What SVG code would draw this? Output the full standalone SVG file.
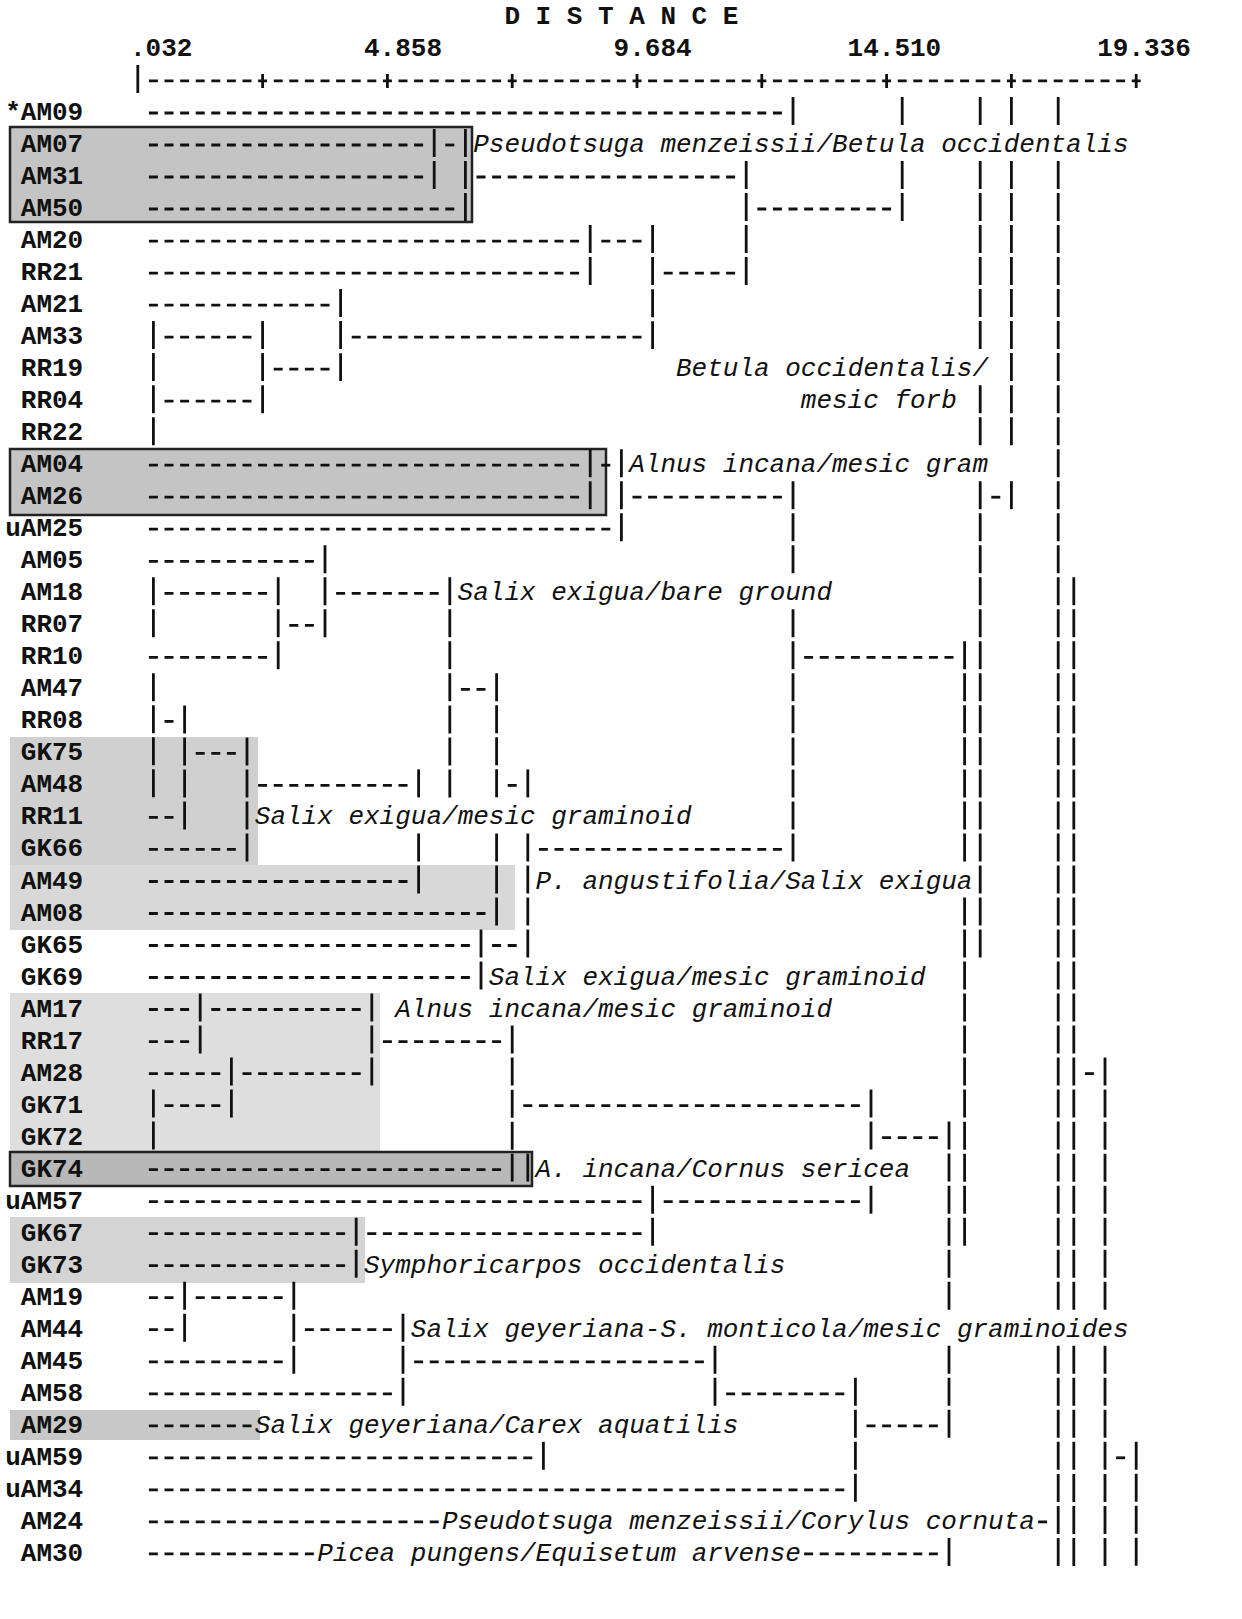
<svg xmlns="http://www.w3.org/2000/svg" width="1242" height="1619" viewBox="0 0 1242 1619">
<style>
.lbl{font-family:"Liberation Mono","Courier New",monospace;font-size:26px;font-weight:bold;fill:#111}
.cl{font-family:"Liberation Mono","Courier New",monospace;font-size:26px;font-style:italic;fill:#111}
.h{stroke:#111;stroke-width:2.8;stroke-dasharray:9 6.6;fill:none}
.v{stroke:#111;stroke-width:2.8;stroke-dasharray:28 4.02;fill:none}
.t{stroke:#111;stroke-width:2.8}
.hb{stroke:#222;stroke-width:2.5}
</style>
<rect x="0" y="0" width="1242" height="1619" fill="#fff"/>
<g id="highlights">
<rect class="hb" x="10" y="127" width="462" height="95" fill="#c4c4c4"/>
<rect class="hb" x="10" y="449" width="596" height="66" fill="#c4c4c4"/>
<rect x="10" y="737" width="248" height="128" fill="#d0d0d0"/>
<rect x="10" y="865" width="505" height="65" fill="#d8d8d8"/>
<rect x="10" y="993" width="370" height="160" fill="#dedede"/>
<rect class="hb" x="10" y="1152" width="522" height="34" fill="#b8b8b8"/>
<rect x="10" y="1217" width="355" height="66" fill="#d4d4d4"/>
<rect x="10" y="1410" width="250" height="30" fill="#c8c8c8"/>
</g>
<g id="axis">
<text class="lbl" x="504.4" y="23.9" xml:space="preserve">D I S T A N C E</text>
<text class="lbl" x="130" y="55.9">.032</text>
<text class="lbl" x="364" y="55.9">4.858</text>
<text class="lbl" x="613.6" y="55.9">9.684</text>
<text class="lbl" x="847.6" y="55.9">14.510</text>
<text class="lbl" x="1097.2" y="55.9">19.336</text>
<line class="t" x1="137.8" y1="65" x2="137.8" y2="93"/>
<line class="h" x1="148.9" y1="80.9" x2="1140.7" y2="80.9"/>
<path class="t" d="M262.6 74v14M387.4 74v14M512.2 74v14M637 74v14M761.8 74v14M886.6 74v14M1011.4 74v14M1136.2 74v14"/>
</g>
<g id="connectors">
<line class="h" x1="148.9" y1="113" x2="781.9" y2="113"/>
<line class="h" x1="148.9" y1="145" x2="423.1" y2="145"/>
<line class="h" x1="445.3" y1="145" x2="454.3" y2="145"/>
<line class="h" x1="148.9" y1="177" x2="423.1" y2="177"/>
<line class="h" x1="476.5" y1="177" x2="735.1" y2="177"/>
<line class="h" x1="148.9" y1="209" x2="454.3" y2="209"/>
<line class="h" x1="757.3" y1="209" x2="891.1" y2="209"/>
<line class="h" x1="148.9" y1="241.1" x2="579.1" y2="241.1"/>
<line class="h" x1="601.3" y1="241.1" x2="641.5" y2="241.1"/>
<line class="h" x1="148.9" y1="273.1" x2="579.1" y2="273.1"/>
<line class="h" x1="663.7" y1="273.1" x2="735.1" y2="273.1"/>
<line class="h" x1="148.9" y1="305.1" x2="329.5" y2="305.1"/>
<line class="h" x1="164.5" y1="337.1" x2="251.5" y2="337.1"/>
<line class="h" x1="351.7" y1="337.1" x2="641.5" y2="337.1"/>
<line class="h" x1="273.7" y1="369.1" x2="329.5" y2="369.1"/>
<line class="h" x1="164.5" y1="401.2" x2="251.5" y2="401.2"/>
<line class="h" x1="148.9" y1="465.2" x2="579.1" y2="465.2"/>
<line class="h" x1="601.3" y1="465.2" x2="610.3" y2="465.2"/>
<line class="h" x1="148.9" y1="497.2" x2="579.1" y2="497.2"/>
<line class="h" x1="632.5" y1="497.2" x2="781.9" y2="497.2"/>
<line class="h" x1="991.3" y1="497.2" x2="1000.3" y2="497.2"/>
<line class="h" x1="148.9" y1="529.2" x2="610.3" y2="529.2"/>
<line class="h" x1="148.9" y1="561.3" x2="313.9" y2="561.3"/>
<line class="h" x1="164.5" y1="593.3" x2="267.1" y2="593.3"/>
<line class="h" x1="336.1" y1="593.3" x2="438.7" y2="593.3"/>
<line class="h" x1="289.3" y1="625.3" x2="313.9" y2="625.3"/>
<line class="h" x1="148.9" y1="657.3" x2="267.1" y2="657.3"/>
<line class="h" x1="804.1" y1="657.3" x2="953.5" y2="657.3"/>
<line class="h" x1="460.9" y1="689.3" x2="485.5" y2="689.3"/>
<line class="h" x1="164.5" y1="721.4" x2="173.5" y2="721.4"/>
<line class="h" x1="195.7" y1="753.4" x2="235.9" y2="753.4"/>
<line class="h" x1="258.1" y1="785.4" x2="407.5" y2="785.4"/>
<line class="h" x1="507.7" y1="785.4" x2="516.7" y2="785.4"/>
<line class="h" x1="148.9" y1="817.4" x2="173.5" y2="817.4"/>
<line class="h" x1="148.9" y1="849.4" x2="235.9" y2="849.4"/>
<line class="h" x1="538.9" y1="849.4" x2="781.9" y2="849.4"/>
<line class="h" x1="148.9" y1="881.5" x2="407.5" y2="881.5"/>
<line class="h" x1="148.9" y1="913.5" x2="485.5" y2="913.5"/>
<line class="h" x1="148.9" y1="945.5" x2="469.9" y2="945.5"/>
<line class="h" x1="492.1" y1="945.5" x2="516.7" y2="945.5"/>
<line class="h" x1="148.9" y1="977.5" x2="469.9" y2="977.5"/>
<line class="h" x1="148.9" y1="1009.5" x2="189.1" y2="1009.5"/>
<line class="h" x1="211.3" y1="1009.5" x2="360.7" y2="1009.5"/>
<line class="h" x1="148.9" y1="1041.6" x2="189.1" y2="1041.6"/>
<line class="h" x1="382.9" y1="1041.6" x2="501.1" y2="1041.6"/>
<line class="h" x1="148.9" y1="1073.6" x2="220.3" y2="1073.6"/>
<line class="h" x1="242.5" y1="1073.6" x2="360.7" y2="1073.6"/>
<line class="h" x1="1084.9" y1="1073.6" x2="1093.9" y2="1073.6"/>
<line class="h" x1="164.5" y1="1105.6" x2="220.3" y2="1105.6"/>
<line class="h" x1="523.3" y1="1105.6" x2="859.9" y2="1105.6"/>
<line class="h" x1="882.1" y1="1137.6" x2="937.9" y2="1137.6"/>
<line class="h" x1="148.9" y1="1169.6" x2="501.1" y2="1169.6"/>
<line class="h" x1="148.9" y1="1201.7" x2="641.5" y2="1201.7"/>
<line class="h" x1="663.7" y1="1201.7" x2="859.9" y2="1201.7"/>
<line class="h" x1="148.9" y1="1233.7" x2="345.1" y2="1233.7"/>
<line class="h" x1="367.3" y1="1233.7" x2="641.5" y2="1233.7"/>
<line class="h" x1="148.9" y1="1265.7" x2="345.1" y2="1265.7"/>
<line class="h" x1="148.9" y1="1297.7" x2="173.5" y2="1297.7"/>
<line class="h" x1="195.7" y1="1297.7" x2="282.7" y2="1297.7"/>
<line class="h" x1="148.9" y1="1329.7" x2="173.5" y2="1329.7"/>
<line class="h" x1="304.9" y1="1329.7" x2="391.9" y2="1329.7"/>
<line class="h" x1="148.9" y1="1361.8" x2="282.7" y2="1361.8"/>
<line class="h" x1="414.1" y1="1361.8" x2="703.9" y2="1361.8"/>
<line class="h" x1="148.9" y1="1393.8" x2="391.9" y2="1393.8"/>
<line class="h" x1="726.1" y1="1393.8" x2="844.3" y2="1393.8"/>
<line class="h" x1="148.9" y1="1425.8" x2="251.5" y2="1425.8"/>
<line class="h" x1="866.5" y1="1425.8" x2="937.9" y2="1425.8"/>
<line class="h" x1="148.9" y1="1457.8" x2="532.3" y2="1457.8"/>
<line class="h" x1="1116.1" y1="1457.8" x2="1125.1" y2="1457.8"/>
<line class="h" x1="148.9" y1="1489.8" x2="844.3" y2="1489.8"/>
<line class="h" x1="148.9" y1="1521.9" x2="438.7" y2="1521.9"/>
<line class="h" x1="1038.1" y1="1521.9" x2="1047.1" y2="1521.9"/>
<line class="h" x1="148.9" y1="1553.9" x2="313.9" y2="1553.9"/>
<line class="h" x1="804.1" y1="1553.9" x2="937.9" y2="1553.9"/>

<line class="v" x1="434.2" y1="129" x2="434.2" y2="189"/>
<line class="v" x1="465.4" y1="129" x2="465.4" y2="221"/>
<line class="v" x1="793" y1="97" x2="793" y2="125"/>
<line class="v" x1="902.2" y1="97" x2="902.2" y2="125"/>
<line class="v" x1="902.2" y1="161" x2="902.2" y2="221"/>
<line class="v" x1="980.2" y1="97" x2="980.2" y2="125"/>
<line class="v" x1="980.2" y1="161" x2="980.2" y2="349.1"/>
<line class="v" x1="980.2" y1="385.2" x2="980.2" y2="445.2"/>
<line class="v" x1="980.2" y1="481.2" x2="980.2" y2="957.5"/>
<line class="v" x1="1011.4" y1="97" x2="1011.4" y2="125"/>
<line class="v" x1="1011.4" y1="161" x2="1011.4" y2="445.2"/>
<line class="v" x1="1011.4" y1="481.2" x2="1011.4" y2="509.2"/>
<line class="v" x1="1058.2" y1="97" x2="1058.2" y2="125"/>
<line class="v" x1="1058.2" y1="161" x2="1058.2" y2="1309.7"/>
<line class="v" x1="1058.2" y1="1345.8" x2="1058.2" y2="1565.9"/>
<line class="v" x1="1073.8" y1="577.3" x2="1073.8" y2="1309.7"/>
<line class="v" x1="1073.8" y1="1345.8" x2="1073.8" y2="1565.9"/>
<line class="v" x1="1105" y1="1057.6" x2="1105" y2="1309.7"/>
<line class="v" x1="1105" y1="1345.8" x2="1105" y2="1565.9"/>
<line class="v" x1="1136.2" y1="1441.8" x2="1136.2" y2="1565.9"/>
<line class="v" x1="746.2" y1="161" x2="746.2" y2="285.1"/>
<line class="v" x1="590.2" y1="225.1" x2="590.2" y2="285.1"/>
<line class="v" x1="590.2" y1="449.2" x2="590.2" y2="509.2"/>
<line class="v" x1="652.6" y1="225.1" x2="652.6" y2="349.1"/>
<line class="v" x1="340.6" y1="289.1" x2="340.6" y2="381.1"/>
<line class="v" x1="262.6" y1="321.1" x2="262.6" y2="413.2"/>
<line class="v" x1="153.4" y1="321.1" x2="153.4" y2="445.2"/>
<line class="v" x1="153.4" y1="577.3" x2="153.4" y2="637.3"/>
<line class="v" x1="153.4" y1="673.3" x2="153.4" y2="797.4"/>
<line class="v" x1="153.4" y1="1089.6" x2="153.4" y2="1149.6"/>
<line class="v" x1="621.4" y1="449.2" x2="621.4" y2="541.2"/>
<line class="v" x1="793" y1="481.2" x2="793" y2="573.3"/>
<line class="v" x1="793" y1="609.3" x2="793" y2="861.4"/>
<line class="v" x1="325" y1="545.3" x2="325" y2="637.3"/>
<line class="v" x1="278.2" y1="577.3" x2="278.2" y2="669.3"/>
<line class="v" x1="449.8" y1="577.3" x2="449.8" y2="797.4"/>
<line class="v" x1="964.6" y1="641.3" x2="964.6" y2="861.4"/>
<line class="v" x1="964.6" y1="897.5" x2="964.6" y2="1245.7"/>
<line class="v" x1="496.6" y1="673.3" x2="496.6" y2="797.4"/>
<line class="v" x1="496.6" y1="833.4" x2="496.6" y2="925.5"/>
<line class="v" x1="184.6" y1="705.4" x2="184.6" y2="829.4"/>
<line class="v" x1="247" y1="737.4" x2="247" y2="861.4"/>
<line class="v" x1="418.6" y1="769.4" x2="418.6" y2="797.4"/>
<line class="v" x1="418.6" y1="833.4" x2="418.6" y2="893.5"/>
<line class="v" x1="527.8" y1="769.4" x2="527.8" y2="797.4"/>
<line class="v" x1="527.8" y1="833.4" x2="527.8" y2="957.5"/>
<line class="v" x1="527.8" y1="1153.6" x2="527.8" y2="1181.6"/>
<line class="v" x1="481" y1="929.5" x2="481" y2="989.5"/>
<line class="v" x1="200.2" y1="993.5" x2="200.2" y2="1053.6"/>
<line class="v" x1="371.8" y1="993.5" x2="371.8" y2="1085.6"/>
<line class="v" x1="512.2" y1="1025.6" x2="512.2" y2="1181.6"/>
<line class="v" x1="231.4" y1="1057.6" x2="231.4" y2="1117.6"/>
<line class="v" x1="871" y1="1089.6" x2="871" y2="1149.6"/>
<line class="v" x1="871" y1="1185.7" x2="871" y2="1213.7"/>
<line class="v" x1="949" y1="1121.6" x2="949" y2="1309.7"/>
<line class="v" x1="949" y1="1345.8" x2="949" y2="1437.8"/>
<line class="v" x1="949" y1="1537.9" x2="949" y2="1565.9"/>
<line class="v" x1="652.6" y1="1185.7" x2="652.6" y2="1245.7"/>
<line class="v" x1="356.2" y1="1217.7" x2="356.2" y2="1277.7"/>
<line class="v" x1="184.6" y1="1281.7" x2="184.6" y2="1341.7"/>
<line class="v" x1="293.8" y1="1281.7" x2="293.8" y2="1373.8"/>
<line class="v" x1="403" y1="1313.7" x2="403" y2="1405.8"/>
<line class="v" x1="715" y1="1345.8" x2="715" y2="1405.8"/>
<line class="v" x1="855.4" y1="1377.8" x2="855.4" y2="1501.8"/>
<line class="v" x1="543.4" y1="1441.8" x2="543.4" y2="1469.8"/>
</g>
<g id="n-AM09"><text class="lbl" x="5.2" y="120">*AM09</text></g>
<g id="n-AM07"><text class="lbl" x="20.8" y="152">AM07</text></g>
<g id="n-AM31"><text class="lbl" x="20.8" y="184">AM31</text></g>
<g id="n-AM50"><text class="lbl" x="20.8" y="216">AM50</text></g>
<g id="n-AM20"><text class="lbl" x="20.8" y="248.1">AM20</text></g>
<g id="n-RR21"><text class="lbl" x="20.8" y="280.1">RR21</text></g>
<g id="n-AM21"><text class="lbl" x="20.8" y="312.1">AM21</text></g>
<g id="n-AM33"><text class="lbl" x="20.8" y="344.1">AM33</text></g>
<g id="n-RR19"><text class="lbl" x="20.8" y="376.1">RR19</text></g>
<g id="n-RR04"><text class="lbl" x="20.8" y="408.2">RR04</text></g>
<g id="n-RR22"><text class="lbl" x="20.8" y="440.2">RR22</text></g>
<g id="n-AM04"><text class="lbl" x="20.8" y="472.2">AM04</text></g>
<g id="n-AM26"><text class="lbl" x="20.8" y="504.2">AM26</text></g>
<g id="n-uAM25"><text class="lbl" x="5.2" y="536.2">uAM25</text></g>
<g id="n-AM05"><text class="lbl" x="20.8" y="568.3">AM05</text></g>
<g id="n-AM18"><text class="lbl" x="20.8" y="600.3">AM18</text></g>
<g id="n-RR07"><text class="lbl" x="20.8" y="632.3">RR07</text></g>
<g id="n-RR10"><text class="lbl" x="20.8" y="664.3">RR10</text></g>
<g id="n-AM47"><text class="lbl" x="20.8" y="696.3">AM47</text></g>
<g id="n-RR08"><text class="lbl" x="20.8" y="728.4">RR08</text></g>
<g id="n-GK75"><text class="lbl" x="20.8" y="760.4">GK75</text></g>
<g id="n-AM48"><text class="lbl" x="20.8" y="792.4">AM48</text></g>
<g id="n-RR11"><text class="lbl" x="20.8" y="824.4">RR11</text></g>
<g id="n-GK66"><text class="lbl" x="20.8" y="856.4">GK66</text></g>
<g id="n-AM49"><text class="lbl" x="20.8" y="888.5">AM49</text></g>
<g id="n-AM08"><text class="lbl" x="20.8" y="920.5">AM08</text></g>
<g id="n-GK65"><text class="lbl" x="20.8" y="952.5">GK65</text></g>
<g id="n-GK69"><text class="lbl" x="20.8" y="984.5">GK69</text></g>
<g id="n-AM17"><text class="lbl" x="20.8" y="1016.5">AM17</text></g>
<g id="n-RR17"><text class="lbl" x="20.8" y="1048.6">RR17</text></g>
<g id="n-AM28"><text class="lbl" x="20.8" y="1080.6">AM28</text></g>
<g id="n-GK71"><text class="lbl" x="20.8" y="1112.6">GK71</text></g>
<g id="n-GK72"><text class="lbl" x="20.8" y="1144.6">GK72</text></g>
<g id="n-GK74"><text class="lbl" x="20.8" y="1176.6">GK74</text></g>
<g id="n-uAM57"><text class="lbl" x="5.2" y="1208.7">uAM57</text></g>
<g id="n-GK67"><text class="lbl" x="20.8" y="1240.7">GK67</text></g>
<g id="n-GK73"><text class="lbl" x="20.8" y="1272.7">GK73</text></g>
<g id="n-AM19"><text class="lbl" x="20.8" y="1304.7">AM19</text></g>
<g id="n-AM44"><text class="lbl" x="20.8" y="1336.7">AM44</text></g>
<g id="n-AM45"><text class="lbl" x="20.8" y="1368.8">AM45</text></g>
<g id="n-AM58"><text class="lbl" x="20.8" y="1400.8">AM58</text></g>
<g id="n-AM29"><text class="lbl" x="20.8" y="1432.8">AM29</text></g>
<g id="n-uAM59"><text class="lbl" x="5.2" y="1464.8">uAM59</text></g>
<g id="n-uAM34"><text class="lbl" x="5.2" y="1496.8">uAM34</text></g>
<g id="n-AM24"><text class="lbl" x="20.8" y="1528.9">AM24</text></g>
<g id="n-AM30"><text class="lbl" x="20.8" y="1560.9">AM30</text></g>
<g id="c-1"><text class="cl" x="473.2" y="152">Pseudotsuga menzeissii/Betula occidentalis</text></g>
<g id="c-2"><text class="cl" x="676" y="376.1">Betula occidentalis/</text><text class="cl" x="800.8" y="408.2">mesic forb</text></g>
<g id="c-3"><text class="cl" x="629.2" y="472.2">Alnus incana/mesic gram</text></g>
<g id="c-4"><text class="cl" x="457.6" y="600.3">Salix exigua/bare ground</text></g>
<g id="c-5"><text class="cl" x="254.8" y="824.4">Salix exigua/mesic graminoid</text></g>
<g id="c-6"><text class="cl" x="535.6" y="888.5">P. angustifolia/Salix exigua</text></g>
<g id="c-7"><text class="cl" x="488.8" y="984.5">Salix exigua/mesic graminoid</text></g>
<g id="c-8"><text class="cl" x="395.2" y="1016.5">Alnus incana/mesic graminoid</text></g>
<g id="c-9"><text class="cl" x="535.6" y="1176.6">A. incana/Cornus sericea</text></g>
<g id="c-10"><text class="cl" x="364" y="1272.7">Symphoricarpos occidentalis</text></g>
<g id="c-11"><text class="cl" x="410.8" y="1336.7">Salix geyeriana-S. monticola/mesic graminoides</text></g>
<g id="c-12"><text class="cl" x="254.8" y="1432.8">Salix geyeriana/Carex aquatilis</text></g>
<g id="c-13"><text class="cl" x="442" y="1528.9">Pseudotsuga menzeissii/Corylus cornuta</text></g>
<g id="c-14"><text class="cl" x="317.2" y="1560.9">Picea pungens/Equisetum arvense</text></g>
</svg>
